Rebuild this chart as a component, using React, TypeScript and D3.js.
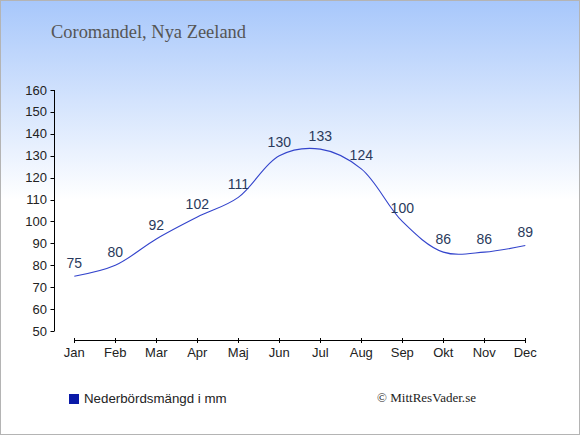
import React from "react";
import * as d3 from "d3";

const months = ["Jan", "Feb", "Mar", "Apr", "Maj", "Jun", "Jul", "Aug", "Sep", "Okt", "Nov", "Dec"];
const precipitation = [75, 80, 92, 102, 111, 130, 133, 124, 100, 86, 86, 89];
const yTicks = [50, 60, 70, 80, 90, 100, 110, 120, 130, 140, 150, 160];
const title = "Coromandel, Nya Zeeland";
const legendLabel = "Nederbördsmängd i mm";
const credit = "© MittResVader.se";

const W = 580;
const H = 435;

export default function App() {
  const x = d3.scalePoint<string>().domain(months).range([74.3, 525.3]);
  const y = d3.scaleLinear().domain([50, 160]).range([331, 90]);
  const line = d3
    .line<number>()
    .x((_, i) => x(months[i]) as number)
    .y((d) => y(d))
    .curve(d3.curveCatmullRom.alpha(0.5));
  const axisX = 54.5;
  const axisY = 340;
  return (
    <svg
      width={W}
      height={H}
      style={{ position: "absolute", left: 0, top: 0 }}
      fontFamily="'Liberation Sans', Arial, sans-serif"
    >
      <defs>
        <linearGradient id="bg" x1="0" y1="0" x2="0" y2="200" gradientUnits="userSpaceOnUse">
          <stop offset="0" stopColor="#a7c7fb" />
          <stop offset="1" stopColor="#ffffff" />
        </linearGradient>
      </defs>
      <rect x={0} y={0} width={W} height={H} fill="#fff" />
      <rect x={0} y={0} width={W} height={200} fill="url(#bg)" />
      <rect x={0.5} y={0.5} width={W - 1} height={H - 1} fill="none" stroke="#b4b4b4" />
      <text x={51} y={38} fontFamily="'Liberation Serif', 'Times New Roman', serif" fontSize={18} fill="#555" textLength={195} lengthAdjust="spacingAndGlyphs">
        {title}
      </text>
      {/* y axis */}
      <line x1={axisX} x2={axisX} y1={y(160)} y2={y(50)} stroke="#000" />
      {yTicks.map((t) => (
        <g key={t}>
          <line x1={axisX - 4} x2={axisX} y1={Math.round(y(t)) + 0.5} y2={Math.round(y(t)) + 0.5} stroke="#000" />
          <text x={47} y={y(t) + 4.5} textAnchor="end" fontSize={13} fill="#222">
            {t}
          </text>
        </g>
      ))}
      {/* x axis */}
      <line x1={x("Jan")} x2={x("Dec")} y1={axisY + 0.5} y2={axisY + 0.5} stroke="#000" />
      {months.map((m) => (
        <g key={m}>
          <line x1={Math.round(x(m) as number) + 0.5} x2={Math.round(x(m) as number) + 0.5} y1={axisY - 2} y2={axisY + 3} stroke="#000" />
          <text x={x(m)} y={357} textAnchor="middle" fontSize={13} fill="#222">
            {m}
          </text>
        </g>
      ))}
      <path d={line(precipitation) || ""} fill="none" stroke="#3344cc" strokeWidth={1.1} />
      {precipitation.map((v, i) => (
        <text key={i} x={x(months[i])} y={y(v) - 8.5} textAnchor="middle" fontSize={14} fill="#2a3a5c">
          {v}
        </text>
      ))}
      {/* legend */}
      <rect x={69} y={394} width={10} height={10} fill="#0a1aa8" />
      <text x={84} y={403} fontSize={13.3} fill="#222">
        {legendLabel}
      </text>
      <text x={377} y={402} fontFamily="'Liberation Serif', 'Times New Roman', serif" fontSize={13.5} fill="#222" textLength={99} lengthAdjust="spacingAndGlyphs">
        {credit}
      </text>
    </svg>
  );
}
